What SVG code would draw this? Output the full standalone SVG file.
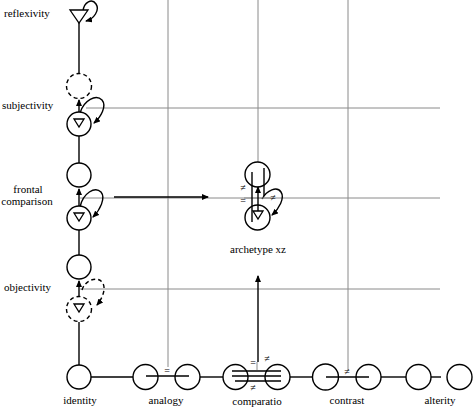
<svg xmlns="http://www.w3.org/2000/svg" width="474" height="409" viewBox="0 0 474 409">
<defs>
<marker id="ah" markerWidth="7" markerHeight="6" refX="6" refY="3" orient="auto" markerUnits="userSpaceOnUse">
<path d="M0,0 L7,3 L0,6 z" fill="#000"/>
</marker>
</defs>
<style>
.g{stroke:#8a8a8a;stroke-width:1;fill:none}
.k{stroke:#000;stroke-width:1.4;fill:none}
.n{stroke:#000;stroke-width:1.4;fill:#fff}
.d{stroke:#000;stroke-width:1.4;fill:#fff;stroke-dasharray:4,3}
.dl{stroke:#000;stroke-width:1.4;fill:none;stroke-dasharray:4,3}
.t{stroke:#000;stroke-width:1.3;fill:#fff}
text{font-family:"Liberation Serif","DejaVu Serif",serif;font-size:11px;fill:#000}
.m{text-anchor:middle}
.s{font-size:10px}
</style>
<rect width="474" height="409" fill="#fff"/>
<g id="connectors">
<line class="g" x1="168" y1="0" x2="168" y2="367"/>
<line class="g" x1="258" y1="0" x2="258" y2="162"/>
<line class="g" x1="348" y1="0" x2="348" y2="370"/>
<line class="g" x1="86" y1="108" x2="440" y2="108"/>
<line class="g" x1="80" y1="198" x2="440" y2="198"/>
<line class="g" x1="80" y1="289" x2="440" y2="289"/>
<line class="k" x1="79" y1="22" x2="79" y2="73"/>
<line class="k" x1="79" y1="112" x2="79" y2="100" marker-end="url(#ah)"/>
<line class="k" x1="79" y1="136" x2="79" y2="163"/>
<line class="k" x1="79" y1="206" x2="79" y2="189" marker-end="url(#ah)"/>
<line class="k" x1="79" y1="230" x2="79" y2="255"/>
<line class="k" x1="79" y1="297" x2="79" y2="281" marker-end="url(#ah)"/>
<line class="k" x1="79" y1="322" x2="79" y2="365"/>
<line class="k" x1="114" y1="197" x2="208" y2="197" marker-end="url(#ah)"/>
<line class="k" x1="258" y1="362" x2="258" y2="276" marker-end="url(#ah)"/>
<line class="k" x1="91" y1="377" x2="133" y2="377"/>
<line class="k" x1="200" y1="377" x2="223" y2="377"/>
<line class="k" x1="290" y1="377" x2="312" y2="377"/>
<line class="k" x1="381" y1="377" x2="406" y2="377"/>
<line class="k" x1="431" y1="377" x2="441" y2="377"/>
<path class="k" d="M83,11 C84,2 92,-2 96,4 C100,10 94,19 86,21" marker-end="url(#ah)"/>
<path class="k" d="M80,113 C84,100 96,94 102,100 C107,106 101,117 94,123" marker-end="url(#ah)"/>
<path class="k" d="M80,207 C83,193 95,186 101,192 C106,198 100,210 93,217" marker-end="url(#ah)"/>
<path class="dl" d="M82,290 C85,280 97,276 102,282 C107,288 102,299 97,305" marker-end="url(#ah)"/>
<path class="k" d="M262,199 C267,190 277,186 281,192 C285,198 279,209 272,215" marker-end="url(#ah)"/>
</g>
<g id="reflexivity">
<polygon class="t" points="70,10 88,10 79,23"/>
<text x="4" y="17">reflexivity</text>
</g>
<g id="dashed-top">
<circle class="d" cx="79" cy="86" r="12.5"/>
</g>
<g id="subjectivity">
<circle class="n" cx="79" cy="124" r="12"/>
<polygon class="t" points="74,119 84,119 79,127"/>
<text x="2" y="109">subjectivity</text>
</g>
<g id="frontal-top">
<circle class="n" cx="79" cy="175" r="12"/>
</g>
<g id="frontal-comparison">
<circle class="n" cx="79" cy="218" r="12"/>
<polygon class="t" points="74,213 84,213 79,221"/>
<text class="m" x="28" y="193">frontal</text>
<text class="m" x="27" y="205">comparison</text>
</g>
<g id="objectivity-top">
<circle class="n" cx="79" cy="267" r="12"/>
</g>
<g id="objectivity">
<circle class="d" cx="79" cy="309" r="12.5"/>
<polygon class="t" points="74,304 84,304 79,312"/>
<text x="4" y="291">objectivity</text>
</g>
<g id="archetype">
<circle class="n" cx="257.5" cy="174.5" r="12.5"/>
<circle class="n" cx="257.5" cy="217.5" r="12.5"/>
<line class="g" x1="244" y1="198" x2="271" y2="198"/>
<line class="k" x1="252" y1="172" x2="252" y2="222"/>
<line class="k" x1="264" y1="168" x2="264" y2="196"/>
<line class="k" x1="258" y1="214" x2="258" y2="187" marker-end="url(#ah)"/>
<polygon class="t" points="253,211 263,211 258,219"/>
<text class="m s" x="243" y="191">≠</text>
<text class="m s" x="243" y="204">=</text>
<text class="m s" x="273" y="201">≠</text>
<text class="m" x="258" y="253">archetype xz</text>
</g>
<g id="identity">
<circle class="n" cx="79" cy="377" r="12"/>
<text class="m" x="80" y="404">identity</text>
</g>
<g id="analogy">
<circle class="n" cx="145.5" cy="377" r="12.5"/>
<circle class="n" cx="187.5" cy="377" r="12.5"/>
<line class="k" x1="146" y1="376" x2="189" y2="376"/>
<text class="m s" x="167" y="374">=</text>
<text class="m" x="166" y="404">analogy</text>
</g>
<g id="comparatio">
<circle class="n" cx="235.5" cy="377" r="12.5"/>
<circle class="n" cx="277.5" cy="377" r="12.5"/>
<line class="k" x1="232" y1="371" x2="281" y2="371"/>
<line class="k" x1="232" y1="376" x2="281" y2="376"/>
<line class="k" x1="235" y1="381" x2="281" y2="381"/>
<line class="g" x1="257" y1="362" x2="257" y2="370"/>
<text class="m s" x="253" y="366">=</text>
<text class="m s" x="267" y="362">≠</text>
<text class="m s" x="253" y="391">≠</text>
<text class="m" x="257" y="405">comparatio</text>
</g>
<g id="contrast">
<circle class="n" cx="325.5" cy="377" r="13"/>
<circle class="n" cx="368.5" cy="377" r="12.5"/>
<line class="k" x1="326" y1="377" x2="369" y2="377"/>
<text class="m s" x="347" y="375">≠</text>
<text class="m" x="347" y="404">contrast</text>
</g>
<g id="alterity">
<circle class="n" cx="418.5" cy="377" r="12.5"/>
<circle class="n" cx="459.5" cy="377" r="12.5"/>
<text class="m" x="440" y="404">alterity</text>
</g>
</svg>
